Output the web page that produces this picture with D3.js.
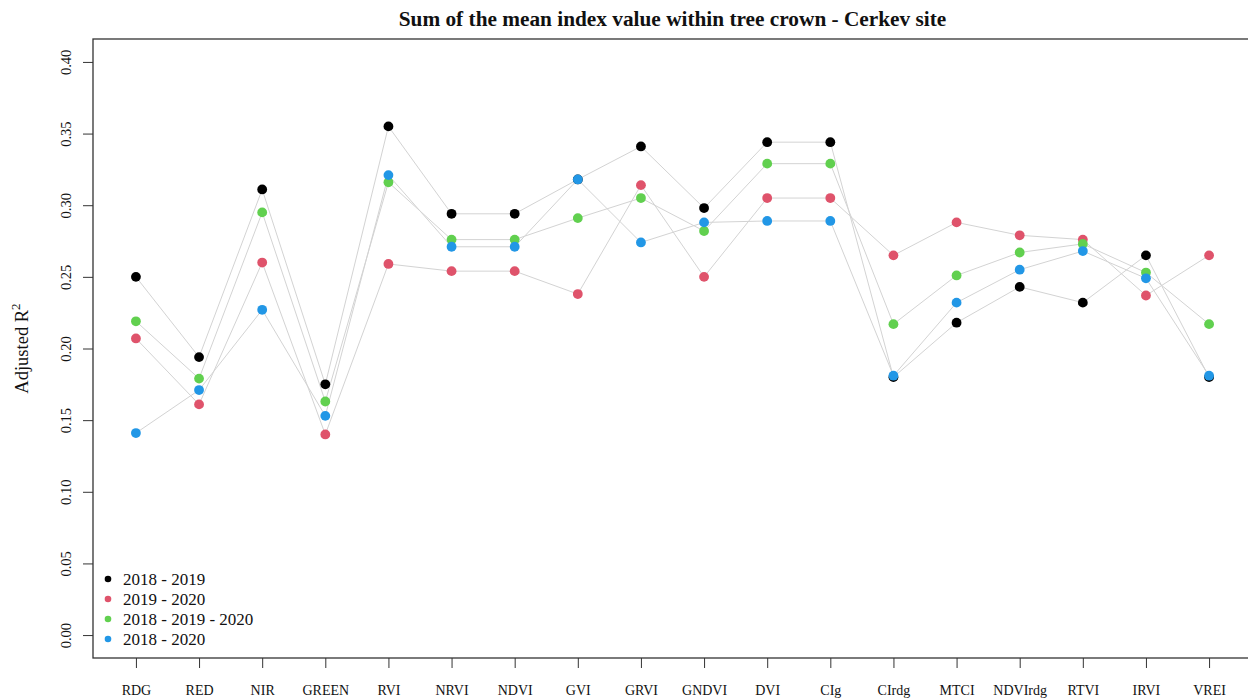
<!DOCTYPE html>
<html>
<head>
<meta charset="utf-8">
<script src="https://cdn.jsdelivr.net/npm/d3@7"></script>
<style>
  html, body { margin: 0; padding: 0; background: #fff; }
  svg { display: block; }
  text { font-family: "Liberation Serif", "DejaVu Serif", serif; fill: #111; }
</style>
</head>
<body>
<svg id="chart" width="1248" height="698"></svg>
<script>
// Spectral indices along the x axis
const categories = ["RDG", "RED", "NIR", "GREEN", "RVI", "NRVI", "NDVI", "GVI", "GRVI",
  "GNDVI", "DVI", "CIg", "CIrdg", "MTCI", "NDVIrdg", "RTVI", "IRVI", "VREI"];

// Adjusted R² per period
const r2_2018_2019 = [0.250, 0.194, 0.311, 0.175, 0.355, 0.294, 0.294, 0.318, 0.341,
  0.298, 0.344, 0.344, 0.180, 0.218, 0.243, 0.232, 0.265, 0.180];
const r2_2019_2020 = [0.207, 0.161, 0.260, 0.140, 0.259, 0.254, 0.254, 0.238, 0.314,
  0.250, 0.305, 0.305, 0.265, 0.288, 0.279, 0.276, 0.237, 0.265];
const r2_2018_2019_2020 = [0.219, 0.179, 0.295, 0.163, 0.316, 0.276, 0.276, 0.291, 0.305,
  0.282, 0.329, 0.329, 0.217, 0.251, 0.267, 0.273, 0.253, 0.217];
const r2_2018_2020 = [0.141, 0.171, 0.227, 0.153, 0.321, 0.271, 0.271, 0.318, 0.274,
  0.288, 0.289, 0.289, 0.181, 0.232, 0.255, 0.268, 0.249, 0.181];

const seriesNames = ["2018 - 2019", "2019 - 2020", "2018 - 2019 - 2020", "2018 - 2020"];
const seriesColors = ["#000000", "#DF536B", "#61D04F", "#2297E6"];
const yTicks = [0.00, 0.05, 0.10, 0.15, 0.20, 0.25, 0.30, 0.35, 0.40];

const series = [r2_2018_2019, r2_2019_2020, r2_2018_2019_2020, r2_2018_2020]
  .map((vals, i) => ({ name: seriesNames[i], color: seriesColors[i], values: vals }));

// Plot region (box runs slightly past the right edge of the page)
const box = { left: 93, top: 39, right: 1252, bottom: 658 };

const svg = d3.select("#chart");

// R-style 4% axis extension on both scales
const n = categories.length;
const xExt = (n - 1) * 0.04;
const x = d3.scaleLinear().domain([1 - xExt, n + xExt]).range([box.left, box.right]);
const yExt = 0.4 * 0.04;
const y = d3.scaleLinear().domain([0 - yExt, 0.4 + yExt]).range([box.bottom, box.top]);

// Title
svg.append("text")
  .attr("x", (box.left + box.right) / 2)
  .attr("y", 26)
  .attr("text-anchor", "middle")
  .style("font-weight", "bold")
  .style("font-size", "21.3px")
  .text("Sum of the mean index value within tree crown - Cerkev site");

// Y axis
const yAxis = svg.append("g")
  .attr("transform", `translate(${box.left},0)`)
  .call(d3.axisLeft(y).tickValues(yTicks).tickFormat(d3.format(".2f")).tickSize(10).tickPadding(0));
yAxis.select(".domain").remove();
yAxis.selectAll(".tick line").attr("stroke", "#333");
yAxis.selectAll(".tick text")
  .attr("x", 0).attr("y", 0)
  .attr("dy", 0)
  .attr("text-anchor", "middle")
  .attr("transform", "translate(-22,0) rotate(-90)")
  .style("font-size", "14.5px")
  .style("font-family", "Liberation Serif, serif")
  .attr("fill", "#111");

// X axis
const xAxis = svg.append("g")
  .attr("transform", `translate(0,${box.bottom})`)
  .call(d3.axisBottom(x).tickValues(d3.range(1, n + 1)).tickFormat(i => categories[i - 1]).tickSize(10).tickPadding(0));
xAxis.select(".domain").remove();
xAxis.selectAll(".tick line").attr("stroke", "#333");
xAxis.selectAll(".tick text")
  .attr("y", 37)
  .attr("dy", 0)
  .style("font-size", "14px")
  .style("font-family", "Liberation Serif, serif")
  .attr("fill", "#111");

// Y axis title with superscript
const yTitle = svg.append("text")
  .attr("transform", `translate(28,${(box.top + box.bottom) / 2}) rotate(-90)`)
  .attr("text-anchor", "middle")
  .style("font-size", "18.5px");
yTitle.append("tspan").text("Adjusted R");
yTitle.append("tspan").attr("dy", -8).style("font-size", "13px").text("2");

// Connecting lines
const line = d3.line().x((d, i) => x(i + 1)).y(d => y(d));
svg.append("g").selectAll("path")
  .data(series)
  .join("path")
  .attr("d", d => line(d.values))
  .attr("fill", "none")
  .attr("stroke", "#d3d3d3")
  .attr("stroke-width", 1);

// Points
series.forEach(s => {
  svg.append("g").selectAll("circle")
    .data(s.values)
    .join("circle")
    .attr("cx", (d, i) => x(i + 1))
    .attr("cy", d => y(d))
    .attr("r", 4.9)
    .attr("fill", s.color);
});

// Plot box
svg.append("rect")
  .attr("x", box.left).attr("y", box.top)
  .attr("width", box.right - box.left).attr("height", box.bottom - box.top)
  .attr("fill", "none")
  .attr("stroke", "#333")
  .attr("stroke-width", 1.3);

// Legend
const legend = svg.append("g").attr("transform", "translate(108,579)");
series.forEach((s, i) => {
  const g = legend.append("g").attr("transform", `translate(0,${i * 20})`);
  g.append("circle").attr("r", 3.3).attr("fill", s.color);
  g.append("text").attr("x", 15).attr("y", 5.8).style("font-size", "17px").text(s.name);
});
</script>
</body>
</html>
